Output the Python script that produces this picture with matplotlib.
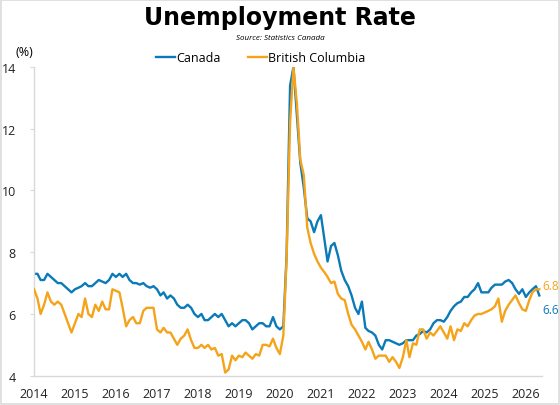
import numpy as np
import pandas as pd
import matplotlib
matplotlib.use("Agg")
import matplotlib.pyplot as plt

# Monthly unemployment rate (%), Jan 2014 onward
canada = [
    7.3, 7.3, 7.1, 7.1, 7.3, 7.2, 7.1, 7.0, 7.0, 6.9, 6.8, 6.7,      # 2014
    6.8, 6.85, 6.9, 7.0, 6.9, 6.9, 7.0, 7.1, 7.05, 7.0, 7.1, 7.3,    # 2015
    7.2, 7.3, 7.2, 7.3, 7.1, 7.0, 7.0, 6.95, 7.0, 6.9, 6.85, 6.9,    # 2016
    6.8, 6.6, 6.7, 6.5, 6.6, 6.5, 6.3, 6.2, 6.2, 6.3, 6.2, 6.0,      # 2017
    5.9, 6.0, 5.8, 5.8, 5.9, 6.0, 5.9, 6.0, 5.8, 5.6, 5.7, 5.6,      # 2018
    5.7, 5.8, 5.8, 5.7, 5.5, 5.6, 5.7, 5.7, 5.6, 5.6, 5.9, 5.6,      # 2019
    5.5, 5.6, 7.9, 13.4, 14.0, 12.4, 10.9, 10.1, 9.1, 9.0, 8.65, 9.0,  # 2020
    9.2, 8.4, 7.7, 8.2, 8.3, 7.9, 7.4, 7.1, 6.9, 6.6, 6.2, 6.0,      # 2021
    6.4, 5.55, 5.45, 5.4, 5.3, 5.0, 4.85, 5.15, 5.15, 5.1, 5.05, 5.0,  # 2022
    5.05, 5.15, 5.15, 5.15, 5.3, 5.35, 5.45, 5.4, 5.5, 5.7, 5.8, 5.8,  # 2023
    5.75, 5.9, 6.1, 6.25, 6.35, 6.4, 6.55, 6.55, 6.7, 6.8, 7.0, 6.7,   # 2024
    6.7, 6.7, 6.85, 6.95, 6.95, 6.95, 7.05, 7.1, 7.0, 6.8, 6.65, 6.8,  # 2025
    6.55, 6.7, 6.8, 6.9, 6.6,                                         # 2026
]
bc = [
    6.8, 6.5, 6.0, 6.3, 6.7, 6.4, 6.3, 6.4, 6.3, 6.0, 5.7, 5.4,
    5.7, 6.0, 5.9, 6.5, 6.0, 5.9, 6.3, 6.1, 6.4, 6.15, 6.15, 6.8,
    6.75, 6.7, 6.2, 5.6, 5.8, 5.9, 5.7, 5.7, 6.1, 6.2, 6.2, 6.2,
    5.5, 5.4, 5.55, 5.4, 5.4, 5.2, 5.0, 5.2, 5.3, 5.5, 5.15, 4.9,
    4.9, 5.0, 4.9, 5.0, 4.85, 4.9, 4.65, 4.7, 4.1, 4.2, 4.65, 4.5,
    4.65, 4.6, 4.75, 4.65, 4.55, 4.7, 4.65, 5.0, 5.0, 4.95, 5.2, 4.9,
    4.7, 5.3, 7.8, 12.2, 14.0, 12.8, 11.0, 10.5, 8.8, 8.3, 7.95, 7.7,
    7.5, 7.35, 7.2, 7.0, 7.05, 6.65, 6.5, 6.45, 6.0, 5.65, 5.5, 5.3,
    5.1, 4.85, 5.1, 4.85, 4.55, 4.65, 4.65, 4.65, 4.45, 4.6, 4.45, 4.25,
    4.6, 5.15, 4.6, 5.05, 5.0, 5.5, 5.5, 5.2, 5.4, 5.3, 5.45, 5.6,
    5.4, 5.2, 5.6, 5.15, 5.5, 5.45, 5.7, 5.6, 5.8, 5.95, 6.0, 6.0,
    6.05, 6.1, 6.15, 6.25, 6.5, 5.75, 6.1, 6.3, 6.45, 6.6, 6.35, 6.15,
    6.1, 6.45, 6.7, 6.8, 6.8,
]
dates = pd.date_range("2014-01-01", periods=len(canada), freq="MS")
years = list(range(2014, 2027))
y_ticks = [4, 6, 8, 10, 12, 14]

blue = "#0a7ab8"
orange = "#f5a31a"
grey = "#d9d9d9"
font = "Open Sans"

fig = plt.figure(figsize=(5.6, 4.06), dpi=100)
fig.patch.set_edgecolor("#e0e0e0")
fig.patch.set_linewidth(1.5)
ax = fig.add_axes([34 / 560, 1 - 376.7 / 406, (542 - 34) / 560, (376.7 - 68) / 406])

ax.plot(dates, canada, color=blue, lw=1.7, label="Canada", zorder=2)
ax.plot(dates, bc, color=orange, lw=1.7, label="British Columbia", zorder=3)

ax.set_ylim(4, 14)
ax.set_yticks(y_ticks)
ax.set_xlim(pd.Timestamp("2014-01-01"), pd.Timestamp("2026-05-25"))
ax.set_xticks([pd.Timestamp(f"{y}-01-01") for y in years])
ax.set_xticklabels([str(y) for y in years])
ax.tick_params(axis="x", length=0, pad=8, labelsize=9, colors="#222222")
ax.tick_params(axis="y", length=3, color=grey, pad=10, labelsize=9, labelcolor="#222222")
for s in ["top", "right"]:
    ax.spines[s].set_visible(False)
for s in ["left", "bottom"]:
    ax.spines[s].set_color(grey)
    ax.spines[s].set_linewidth(1)

for lab in ax.get_xticklabels() + ax.get_yticklabels():
    lab.set_family(font)

# end labels
ax.annotate(f"{bc[-1]:.1f}", (dates[-1], bc[-1]), xytext=(2, 3), textcoords="offset points",
            color=orange, fontsize=8.5, family=font, va="center")
ax.annotate(f"{canada[-1]:.1f}", (dates[-1], canada[-1]), xytext=(2, -10), textcoords="offset points",
            color=blue, fontsize=8.5, family=font, va="center")

fig.text(0.5, 1 - 18 / 406, "Unemployment Rate", ha="center", va="center",
         fontsize=17, fontweight="bold", family="DejaVu Sans")
fig.text(0.5, 1 - 39 / 406, "Source: Statistics Canada", ha="center", va="center",
         fontsize=5.8, style="italic", family=font)
fig.text(16 / 560, 1 - 53 / 406, "(%)", ha="left", va="center", fontsize=9, family=font)

fig.legend(loc="center", bbox_to_anchor=(261 / 560, 1 - 59 / 406), ncol=2, frameon=False,
           handlelength=1.5, handletextpad=0.1, columnspacing=2.2,
           prop={"family": font, "size": 9})

fig.savefig("out.png", dpi=100, edgecolor=fig.get_edgecolor())
